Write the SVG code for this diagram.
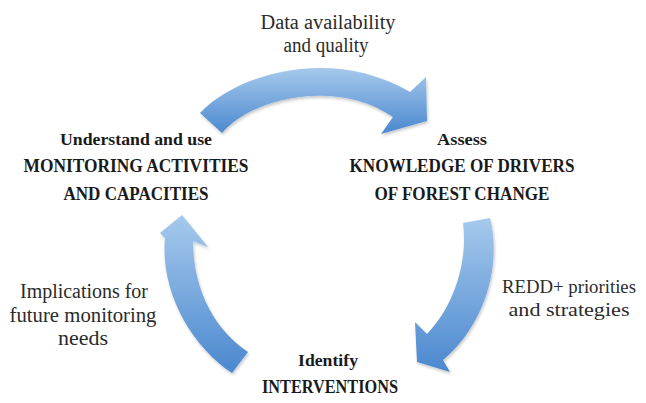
<svg xmlns="http://www.w3.org/2000/svg" width="646" height="403" viewBox="0 0 646 403">
<style>
  text { font-family: "Liberation Serif", "Times New Roman", serif; text-anchor: middle; }
  .lbl { font-size: 20.5px; fill: #2b2b2b; }
  .lbl2 { font-size: 19px; fill: #2b2b2b; }
  .head { font-size: 17.5px; font-weight: bold; fill: #1a1a1a; }
  .big { font-size: 19.5px; font-weight: bold; fill: #1a1a1a; }
  .arrow { fill: url(#blue); filter: url(#shadow); }
</style>
<defs>
  <linearGradient id="blue" x1="0" y1="0" x2="0" y2="1">
    <stop offset="0" stop-color="#a6c9ec"/>
    <stop offset="1" stop-color="#4b88cf"/>
  </linearGradient>
  <filter id="shadow" x="-10%" y="-10%" width="130%" height="130%">
    <feDropShadow dx="1" dy="2" stdDeviation="1.5" flood-color="#000" flood-opacity="0.22"/>
  </filter>
</defs>
<rect width="646" height="403" fill="#fff"/>

<g id="connectors">
  <path id="arrow-top" class="arrow" d="M200,113 C235,75 330,45 410,92 L426,77 L427,121 L381,134 L393,117 C340,80 255,95 222,133 Z"/>
  <path id="arrow-right" class="arrow" d="M463,223 L490,218 C502,265 485,325 443,360 L450,372 L417,362 L415,322 L427,334 C455,305 468,260 463,223 Z"/>
  <path id="arrow-left" class="arrow" d="M182,215 L208,247 L193,241 C193,290 215,330 248,352 L232,373 C190,345 160,290 165,238 L160,233 Z"/>
  <g id="edge-labels">
    <text class="lbl" x="328" y="29" textLength="135" lengthAdjust="spacingAndGlyphs">Data availability</text>
    <text class="lbl" x="326" y="52" textLength="85" lengthAdjust="spacingAndGlyphs">and quality</text>
    <text class="lbl2" x="569" y="293" textLength="134" lengthAdjust="spacingAndGlyphs">REDD+ priorities</text>
    <text class="lbl2" x="569" y="316" textLength="121" lengthAdjust="spacingAndGlyphs">and strategies</text>
    <text class="lbl" x="84" y="298" textLength="128" lengthAdjust="spacingAndGlyphs">Implications for</text>
    <text class="lbl" x="83" y="322" textLength="147" lengthAdjust="spacingAndGlyphs">future monitoring</text>
    <text class="lbl" x="83" y="345" textLength="50" lengthAdjust="spacingAndGlyphs">needs</text>
  </g>
</g>

<g id="node-monitoring">
  <text class="head" x="136" y="145" textLength="152" lengthAdjust="spacingAndGlyphs">Understand and use</text>
  <text class="big" x="136" y="172" textLength="225" lengthAdjust="spacingAndGlyphs">MONITORING ACTIVITIES</text>
  <text class="big" x="136" y="200" textLength="145" lengthAdjust="spacingAndGlyphs">AND CAPACITIES</text>
</g>

<g id="node-drivers">
  <text class="head" x="462" y="145" textLength="50" lengthAdjust="spacingAndGlyphs">Assess</text>
  <text class="big" x="462" y="172" textLength="225" lengthAdjust="spacingAndGlyphs">KNOWLEDGE OF DRIVERS</text>
  <text class="big" x="462" y="200" textLength="175" lengthAdjust="spacingAndGlyphs">OF FOREST CHANGE</text>
</g>

<g id="node-interventions">
  <text class="head" x="328" y="366" textLength="60" lengthAdjust="spacingAndGlyphs">Identify</text>
  <text class="big" x="330" y="393" textLength="136" lengthAdjust="spacingAndGlyphs">INTERVENTIONS</text>
</g>
</svg>
